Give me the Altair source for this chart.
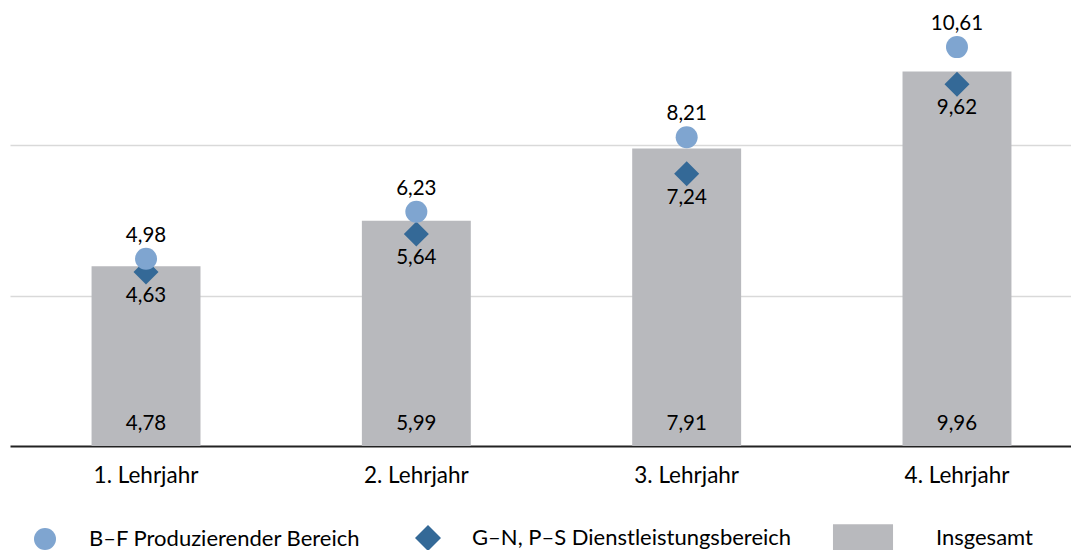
import altair as alt
import pandas as pd

categories = ["1. Lehrjahr", "2. Lehrjahr", "3. Lehrjahr", "4. Lehrjahr"]
produzierend = [4.98, 6.23, 8.21, 10.61]
dienstleistung = [4.63, 5.64, 7.24, 9.62]
insgesamt = [4.78, 5.99, 7.91, 9.96]
point_series = ["B–F Produzierender Bereich", "G–N, P–S Dienstleistungsbereich"]
point_colors = ["#7FA5D0", "#346997"]
point_shapes = ["circle", "M0,-1.18L1.18,0L0,1.18L-1.18,0Z"]
bar_series = ["Insgesamt"]
bar_colors = ["#B8B9BD"]
grid_values = [0, 4, 8]


def fmt(v):
    return f"{v:.2f}".replace(".", ",")


bars_df = pd.DataFrame({"Lehrjahr": categories, "Wert": insgesamt, "Serie": bar_series[0],
                        "Label": [fmt(v) for v in insgesamt], "Basis": [0] * len(categories)})
prod_df = pd.DataFrame({"Lehrjahr": categories, "Wert": produzierend, "Serie": point_series[0],
                        "Label": [fmt(v) for v in produzierend]})
dienst_df = pd.DataFrame({"Lehrjahr": categories, "Wert": dienstleistung, "Serie": point_series[1],
                          "Label": [fmt(v) for v in dienstleistung]})

FONT = "Lato"

x_enc = alt.X("Lehrjahr:N", sort=categories,
              scale=alt.Scale(paddingInner=0.597, paddingOuter=0.261, align=0.578),
              axis=alt.Axis(title=None, labelAngle=0, domain=False, ticks=False, labelFontSize=22.5,
                            labelFont=FONT, labelColor="black", labelPadding=18))

y_scale = alt.Scale(domain=[0, 11.65], nice=False, zero=True)
y_axis = alt.Axis(title=None, labels=False, ticks=False, domain=False, values=grid_values, grid=True,
                  gridColor={"condition": {"test": "datum.value === 0", "value": "#222222"}, "value": "#D9D9D9"},
                  gridWidth={"condition": {"test": "datum.value === 0", "value": 2}, "value": 1.5})

legend_common = dict(title=None, orient="none", legendY=519, direction="horizontal",
                     labelFontSize=22, labelFont=FONT, labelColor="black", symbolSize=484,
                     symbolStrokeWidth=0, symbolOpacity=1, labelLimit=0)

point_legend = alt.Legend(legendX=24, labelOffset=33, columnPadding=54, **legend_common)
bar_legend = alt.Legend(legendX=842, labelOffset=62, symbolType="M-2.73,-1.25H2.73V1.25H-2.73Z",
                        **legend_common)

color_scale = alt.Scale(domain=point_series, range=point_colors)
shape_scale = alt.Scale(domain=point_series, range=point_shapes)
fill_scale = alt.Scale(domain=bar_series, range=bar_colors)

bars = alt.Chart(bars_df).mark_bar().encode(
    x=x_enc,
    y=alt.Y("Wert:Q", scale=y_scale, axis=y_axis),
    fill=alt.Fill("Serie:N", scale=fill_scale, legend=bar_legend),
)

diamonds = alt.Chart(dienst_df).mark_point(filled=True, size=449, opacity=1).encode(
    x=x_enc,
    y=alt.Y("Wert:Q", scale=y_scale, axis=y_axis),
    color=alt.Color("Serie:N", scale=color_scale, legend=point_legend),
    shape=alt.Shape("Serie:N", scale=shape_scale, legend=point_legend),
)

circles = alt.Chart(prod_df).mark_point(filled=True, size=484, opacity=1).encode(
    x=x_enc,
    y=alt.Y("Wert:Q", scale=y_scale, axis=y_axis),
    color=alt.Color("Serie:N", scale=color_scale, legend=point_legend),
    shape=alt.Shape("Serie:N", scale=shape_scale, legend=point_legend),
)

text_style = dict(fontSize=20.5, font=FONT, color="black", baseline="middle")

circle_text = alt.Chart(prod_df).mark_text(dy=-23, **text_style).encode(
    x=x_enc, y=alt.Y("Wert:Q", scale=y_scale, axis=y_axis), text="Label:N")
diamond_text = alt.Chart(dienst_df).mark_text(dy=24, **text_style).encode(
    x=x_enc, y=alt.Y("Wert:Q", scale=y_scale, axis=y_axis), text="Label:N")
bar_text = alt.Chart(bars_df).mark_text(dy=-22, **text_style).encode(
    x=x_enc, y=alt.Y("Basis:Q", scale=y_scale, axis=y_axis), text="Label:N")

chart = alt.layer(bars, diamonds, circles, circle_text, diamond_text, bar_text).properties(
    width=1061, height=438, padding={"left": 2, "top": 0, "right": 0, "bottom": 0},
    background="white",
).configure(font=FONT).configure_view(stroke=None)

chart.save("out.html", embed_options={"renderer": "svg", "actions": False})
